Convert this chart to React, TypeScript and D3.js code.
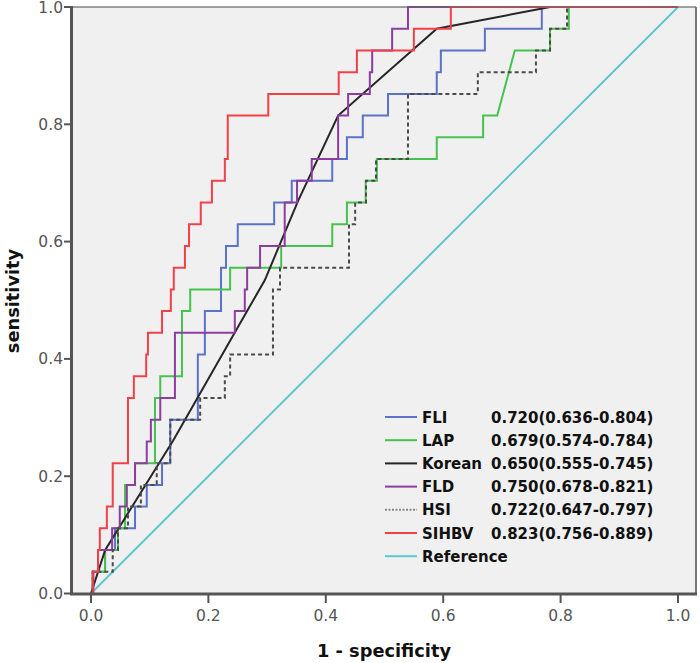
import React from "react";
import * as d3 from "d3";

// ---- data ----
const nPositive = 27;
const xTicks = [0, 0.2, 0.4, 0.6, 0.8, 1.0];
const yTicks = [0, 0.2, 0.4, 0.6, 0.8, 1.0];

// step lists: [fpr, positives detected] (horizontal to fpr, then up); 3rd flag = diagonal segment
const fliSteps = [[0.003,1],[0.024,2],[0.041,3],[0.075,4],[0.095,5],[0.121,6],[0.135,8],[0.182,11],[0.194,13],[0.2215,15],[0.230,16],[0.250,17],[0.312,18],[0.342,19],[0.411,20],[0.436,21],[0.463,22],[0.506,23],[0.589,24],[0.596,25],[0.671,26],[0.768,27],[1,27]];
const lapSteps = [[0.003,1],[0.024,2],[0.046,3],[0.058,5],[0.075,6],[0.109,9],[0.118,10],[0.155,13],[0.169,14],[0.237,15],[0.324,16],[0.411,17],[0.436,18],[0.468,19],[0.487,20],[0.589,21],[0.668,22],[0.692,22],[0.722,25,1],[0.782,26],[0.814,27],[1,27]];
const koreanPoints = [[0,0],[0.024,0.074],[0.140,0.261],[0.245,0.445],[0.296,0.534],[0.353,0.670],[0.421,0.815],[0.589,0.963],[0.782,1.0],[1,1]];
const fldSteps = [[0.004,1],[0.012,2],[0.036,3],[0.049,4],[0.061,5],[0.075,6],[0.095,7],[0.102,8],[0.118,9],[0.143,12],[0.245,13],[0.262,14],[0.266,15],[0.288,16],[0.330,18],[0.351,19],[0.376,20],[0.421,22],[0.438,23],[0.475,24],[0.479,25],[0.513,26],[0.540,27],[1,27]];
const hsiSteps = [[0.003,1],[0.037,2],[0.046,3],[0.063,4],[0.085,5],[0.112,6],[0.135,8],[0.186,9],[0.228,10],[0.237,11],[0.310,14],[0.322,15],[0.4395,17],[0.450,18],[0.4685,19],[0.4855,20],[0.540,23],[0.659,24],[0.758,25],[0.782,26],[0.811,27],[1,27]];
const sihbvSteps = [[0.003,1],[0.012,2],[0.015,3],[0.027,4],[0.037,6],[0.063,9],[0.073,10],[0.094,11],[0.097,12],[0.121,13],[0.136,14],[0.141,15],[0.160,16],[0.167,17],[0.187,18],[0.206,19],[0.228,20],[0.233,22],[0.302,23],[0.422,24],[0.453,25],[0.550,26],[0.613,27],[1,27]];
const referencePoints = [[0,0],[1,1]];

const legendNames = ["FLI", "LAP", "Korean", "FLD", "HSI", "SIHBV", "Reference"];
const legendAuc = ["0.720(0.636-0.804)", "0.679(0.574-0.784)", "0.650(0.555-0.745)", "0.750(0.678-0.821)", "0.722(0.647-0.797)", "0.823(0.756-0.889)", ""];

function expand(steps: number[][]): number[][] {
  const pts: number[][] = [[0, 0]];
  let k = 0;
  for (const s of steps) {
    const [f, kk, diag] = s;
    if (diag) {
      pts.push([f, kk]);
    } else {
      pts.push([f, k]);
      if (kk !== k) pts.push([f, kk]);
    }
    k = kk;
  }
  return pts.map(([f, c]) => [f, c / nPositive]);
}

const seriesData: Record<string, number[][]> = {
  FLI: expand(fliSteps),
  LAP: expand(lapSteps),
  Korean: koreanPoints,
  FLD: expand(fldSteps),
  HSI: expand(hsiSteps),
  SIHBV: expand(sihbvSteps),
  Reference: referencePoints,
};

const styles: Record<string, { color: string; dash?: string; legendColor?: string }> = {
  FLI: { color: "#5a72c8" },
  LAP: { color: "#46c24e" },
  Korean: { color: "#262626" },
  FLD: { color: "#8d3d9e" },
  HSI: { color: "#4a4a4a", dash: "4,3", legendColor: "#888" },
  SIHBV: { color: "#f24048" },
  Reference: { color: "#5cc8cc" },
};

const drawOrder = ["Reference", "FLI", "LAP", "Korean", "FLD", "HSI", "SIHBV"];

export default function App() {
  const W = 700, H = 663;
  const plot = { left: 72, right: 696, top: 7, bottom: 594 };
  const x = d3.scaleLinear().domain([0, 1]).range([91, 678]);
  const y = d3.scaleLinear().domain([0, 1]).range([593.5, 7]);
  const line = d3.line<number[]>().x((d) => x(d[0])).y((d) => y(d[1]));
  const fmt = d3.format(".1f");
  const font = "'DejaVu Sans', sans-serif";

  const legendX = 385, legendY = 417, legendStep = 23.2;

  return (
    <svg width={W} height={H} style={{ position: "absolute", left: 0, top: 0, background: "#fff" }}>
      <rect x={plot.left} y={plot.top} width={plot.right - plot.left} height={plot.bottom - plot.top} fill="#f0f0f0" />
      {drawOrder.map((name) => (
        <path
          key={name}
          d={line(seriesData[name]) || ""}
          fill="none"
          stroke={styles[name].color}
          strokeWidth={2}
          strokeDasharray={styles[name].dash}
          strokeLinejoin="miter"
        />
      ))}
      {/* frame */}
      <line x1={plot.left} x2={plot.right} y1={plot.top} y2={plot.top} stroke="#666" strokeWidth={1.5} opacity={0.8} />
      <line x1={plot.right} x2={plot.right} y1={plot.top} y2={plot.bottom} stroke="#777" strokeWidth={2} />
      <line x1={plot.left - 0.5} x2={plot.left - 0.5} y1={plot.top - 1} y2={plot.bottom + 1} stroke="#555" strokeWidth={3} />
      <line x1={plot.left - 2} x2={plot.right + 1} y1={plot.bottom} y2={plot.bottom} stroke="#555" strokeWidth={3} />
      {/* y ticks */}
      {yTicks.map((t) => (
        <g key={"y" + t}>
          <line x1={plot.left - 8} x2={plot.left} y1={y(t)} y2={y(t)} stroke="#555" strokeWidth={2} />
          <text x={plot.left - 9} y={y(t) + 5.5} textAnchor="end" fontFamily={font} fontSize={15.5} fill="#555">
            {fmt(t)}
          </text>
        </g>
      ))}
      {/* x ticks */}
      {xTicks.map((t) => (
        <g key={"x" + t}>
          <line x1={x(t)} x2={x(t)} y1={plot.bottom} y2={plot.bottom + 9} stroke="#555" strokeWidth={2} />
          <text x={x(t)} y={620.5} textAnchor="middle" fontFamily={font} fontSize={15.5} fill="#555">
            {fmt(t)}
          </text>
        </g>
      ))}
      {/* axis titles */}
      <text x={384} y={657} textAnchor="middle" fontFamily={font} fontWeight="bold" fontSize={17.8} fill="#111">
        1 - specificity
      </text>
      <text transform="translate(19,301) rotate(-90)" textAnchor="middle" fontFamily={font} fontWeight="bold" fontSize={17.8} fill="#111">
        sensitivity
      </text>
      {/* legend */}
      {legendNames.map((name, i) => {
        const cy = legendY + i * legendStep;
        const st = styles[name];
        return (
          <g key={"lg" + name}>
            <line
              x1={legendX}
              x2={legendX + 32}
              y1={cy}
              y2={cy}
              stroke={st.legendColor || st.color}
              strokeWidth={2}
              strokeDasharray={st.dash ? "2,1.5" : undefined}
            />
            <text x={legendX + 37} y={cy + 5.5} fontFamily={font} fontWeight="bold" fontSize={15} fill="#111">
              {name}
            </text>
            {legendAuc[i] && (
              <text x={491} y={cy + 5.5} fontFamily={font} fontWeight="bold" fontSize={15} fill="#111">
                {legendAuc[i]}
              </text>
            )}
          </g>
        );
      })}
    </svg>
  );
}
